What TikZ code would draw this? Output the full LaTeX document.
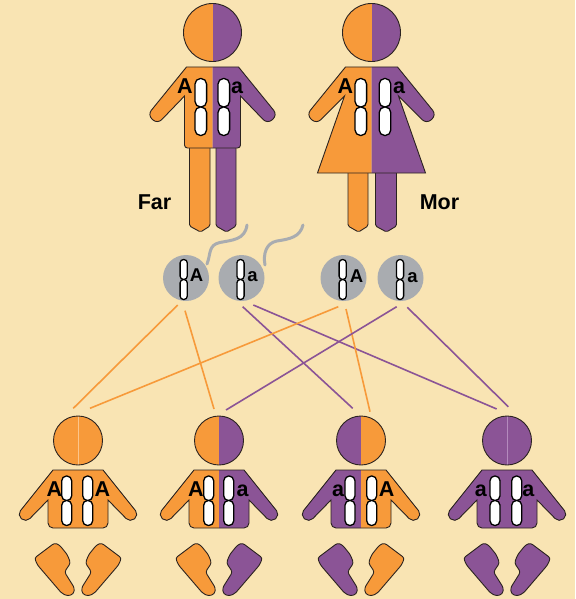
\documentclass[tikz,border=0pt]{standalone}
\usepackage{fontspec}
\setmainfont{Liberation Sans}
\usetikzlibrary{calc}

\definecolor{bg}{HTML}{F9E4B3}
\definecolor{orng}{HTML}{F79A3A}
\definecolor{purp}{HTML}{8B5496}
\definecolor{gam}{HTML}{A9ACB0}
\definecolor{outl}{HTML}{2B2320}
\definecolor{orngl}{HTML}{FCC58A}
\definecolor{purpl}{HTML}{B48ABD}

\newcommand{\figfont}{\bfseries\fontsize{21.5}{21.5}\selectfont}
\newcommand{\gamfont}{\bfseries\fontsize{18.5}{18.5}\selectfont}

% fill a closed path orange/purple on either side of x=0, then outline it
\newcommand{\splitfill}[3]{%
  \begin{scope}\clip (-150,0) rectangle (0,620); \fill[#1] #3; \end{scope}
  \begin{scope}\clip (0,0) rectangle (150,620); \fill[#2] #3; \end{scope}
  \draw[outline] #3;}

% chromosome: x centre, top, waist, bottom, half width
\newcommand{\chromo}[5]{%
  \draw[chrom, rounded corners=#5*0.95] (#1-#5,#2) rectangle (#1+#5,#3);
  \draw[chrom, rounded corners=#5*0.95] (#1-#5,#3) rectangle (#1+#5,#4);}

% child torso, arms and feet around a centre x
\newcommand{\kidbody}[3]{%
  \begin{scope}[shift={(#1,0)}]
    \splitfill{#2}{#3}{(-25,470) -- (25,470) [rounded corners=5.5] -- (61,515) -- (52,522.5) [sharp corners] -- (30,500) [rounded corners=5] -- (30,528) -- (-30,528) [sharp corners] -- (-30,500) [rounded corners=5.5] -- (-52,522.5) -- (-61,515) [sharp corners] -- cycle}
    \draw[outline, fill=#2, rounded corners=2.5] (-43.5,558) -- (-23.5,543) -- (-18.5,545) -- (-10.5,555) -- (-7.5,563) -- (-13.5,572) -- (-3.5,588) -- (-4.5,594) -- (-10.5,596) -- (-16.5,593) -- (-40.5,565) -- cycle;
    \draw[outline, fill=#3, rounded corners=2.5] (43.5,558) -- (23.5,543) -- (18.5,545) -- (10.5,555) -- (7.5,563) -- (13.5,572) -- (3.5,588) -- (4.5,594) -- (10.5,596) -- (16.5,593) -- (40.5,565) -- cycle;
  \end{scope}}

\begin{document}
\begin{tikzpicture}[x=1pt,y=-1pt,
  outline/.style={draw=outl, line width=0.9},
  chrom/.style={draw=black, fill=white, line width=1.3},
  gamete/.style={circle, fill=gam, minimum size=46, inner sep=0},
  head/.style={circle, draw=outl, line width=0.9, inner sep=0, minimum size=#1},
  headsplit/.style 2 args={path picture={
    \fill[#1] (path picture bounding box.south west) rectangle (path picture bounding box.north);
    \fill[#2] (path picture bounding box.north) rectangle (path picture bounding box.south east);}},
  headseam/.style 2 args={path picture={
    \fill[#1] (path picture bounding box.south west) rectangle (path picture bounding box.north east);
    \draw[#2, line width=0.8] (path picture bounding box.north) -- (path picture bounding box.south);}},
  letter/.style={inner sep=0, font=\figfont},
  gletter/.style={inner sep=0, font=\gamfont},
  oline/.style={draw=orng, line width=1.6},
  pline/.style={draw=purp, line width=1.6},
  tail/.style={draw=gam, line width=3, line cap=round}]

\fill[bg] (0,0) rectangle (575,599);
\useasboundingbox (0,0) rectangle (575,599);

% ---------- gametes ----------
\draw[tail] (207,264) .. controls (211,254) and (208,245) .. (220,242.5) .. controls (232,240) and (245,240) .. (247,225);
\draw[tail] (265,265) .. controls (263,254) and (266,243) .. (277,241) .. controls (290,239) and (300,237) .. (303,225);

\node[gamete] (g1) at (186,278) {};
\node[gamete] (g2) at (241.5,278) {};
\node[gamete] (g3) at (343.5,278) {};
\node[gamete] (g4) at (400.5,278) {};

\chromo{183.7}{259.5}{279.5}{299.5}{3.6}
\chromo{240.5}{259.5}{279.5}{299.5}{3.6}
\chromo{342.7}{259.5}{279.5}{299.5}{3.6}
\chromo{400}{259.5}{279.5}{299.5}{3.6}
\node[gletter] (lg1) at (196.5,275.5) {A};
\node[gletter] (lg2) at (252.5,276.5) {a};
\node[gletter] (lg3) at (356.5,276.3) {A};
\node[gletter] (lg4) at (412.5,277.7) {a};

% ---------- father ----------
\begin{scope}[shift={(212.5,0)}]
  \draw[outline, fill=orng, rounded corners=1.5] (-23,140) -- (-2.5,140) -- (-2.5,226) -- (-12,232) -- (-23,226) -- cycle;
  \draw[outline, fill=purp, rounded corners=1.5] (3.5,140) -- (23.5,140) -- (23.5,226) -- (14,232) -- (3.5,226) -- cycle;
  \splitfill{orng}{purp}{(-26,67) -- (26,67) [rounded corners=6] -- (65,115) -- (55,124) [sharp corners] -- (28,96) [rounded corners=3] -- (28,148) -- (-28,148) [sharp corners] -- (-28,96) [rounded corners=6] -- (-55,124) -- (-65,115) [sharp corners] -- cycle}
\end{scope}
\node[head=58, headsplit={orng}{purp}] (hf) at (212.5,32.5) {};
\chromo{200.8}{78.5}{107}{135.5}{5.8}
\chromo{223.8}{78.5}{107}{135.5}{5.8}
\node[letter] (lfA) at (185,86) {A};
\node[letter] (lfa) at (237,88) {a};
\node[letter] (far) at (154.5,202.5) {Far};

% ---------- mother ----------
\begin{scope}[shift={(371.5,0)}]
  \draw[outline, fill=orng, rounded corners=1.5] (-23.5,165) -- (-3.5,165) -- (-3.5,226) -- (-13,232) -- (-23.5,226) -- cycle;
  \draw[outline, fill=purp, rounded corners=1.5] (4,165) -- (25,165) -- (25,226) -- (15,232) -- (4,226) -- cycle;
  \splitfill{orng}{purp}{(-26,67) -- (26,67) [rounded corners=6] -- (65,115) -- (55,124) [sharp corners] -- (27,96) -- (54,173) -- (-54,173) -- (-27,96) [rounded corners=6] -- (-55,124) -- (-65,115) [sharp corners] -- cycle}
\end{scope}
\node[head=58, headsplit={orng}{purp}] (hm) at (371.5,32.5) {};
\chromo{360.8}{78.5}{107}{135.5}{5.8}
\chromo{385}{78.5}{107}{135.5}{5.8}
\node[letter] (lmA) at (345.5,86) {A};
\node[letter] (lma) at (399,88) {a};
\node[letter] (mor) at (439.5,202.5) {Mor};

% ---------- children ----------
\node[head=49, headseam={orng}{orngl}] (h1) at (78,440.5) {};
\node[head=49, headsplit={orng}{purp}] (h2) at (219,440.5) {};
\node[head=49, headsplit={purp}{orng}] (h3) at (361,440.5) {};
\node[head=49, headseam={purp}{purpl}] (h4) at (507,440.5) {};

\kidbody{78}{orng}{orng}
\kidbody{219}{orng}{purp}
\kidbody{361}{purp}{orng}
\kidbody{507}{purp}{purp}

\chromo{66.7}{476}{500.5}{525.5}{5}
\chromo{87.7}{476}{500.5}{525.5}{5}
\chromo{208.7}{476}{500.5}{525.5}{5}
\chromo{228.7}{476}{500.5}{525.5}{5}
\chromo{350}{476}{500.5}{525.5}{5}
\chromo{371.7}{476}{500.5}{525.5}{5}
\chromo{495}{476}{500.5}{525.5}{5}
\chromo{516.7}{476}{500.5}{525.5}{5}

\node[letter] (l1a) at (54.5,489) {A};
\node[letter] (l1b) at (102.5,489) {A};
\node[letter] (l2a) at (195.8,489) {A};
\node[letter] (l2b) at (242.5,491) {a};
\node[letter] (l3a) at (338,491) {a};
\node[letter] (l3b) at (386.7,489) {A};
\node[letter] (l4a) at (480.8,491) {a};
\node[letter] (l4b) at (528.3,491) {a};

% ---------- inheritance lines ----------
\draw[oline] ($(g1)+(-8.3,27)$) -- ($(h1)+(-4.7,-32.2)$);
\draw[oline] ($(g1)+(-1,32.7)$) -- ($(h2)+(-5,-31.5)$);
\draw[pline] ($(g2)+(1.2,28.7)$) -- ($(h3)+(-8.3,-32.2)$);
\draw[pline] ($(g2)+(11.8,27)$) -- ($(h4)+(-10.3,-31.5)$);
\draw[oline] ($(g3)+(-5.2,28.7)$) -- ($(h1)+(12,-32.2)$);
\draw[oline] ($(g3)+(2.5,31)$) -- ($(h3)+(9,-28.8)$);
\draw[pline] ($(g4)+(-3.8,28.7)$) -- ($(h2)+(7,-30.5)$);
\draw[pline] ($(g4)+(6.8,29.3)$) -- ($(h4)+(1.3,-33.8)$);
\end{tikzpicture}
\end{document}
